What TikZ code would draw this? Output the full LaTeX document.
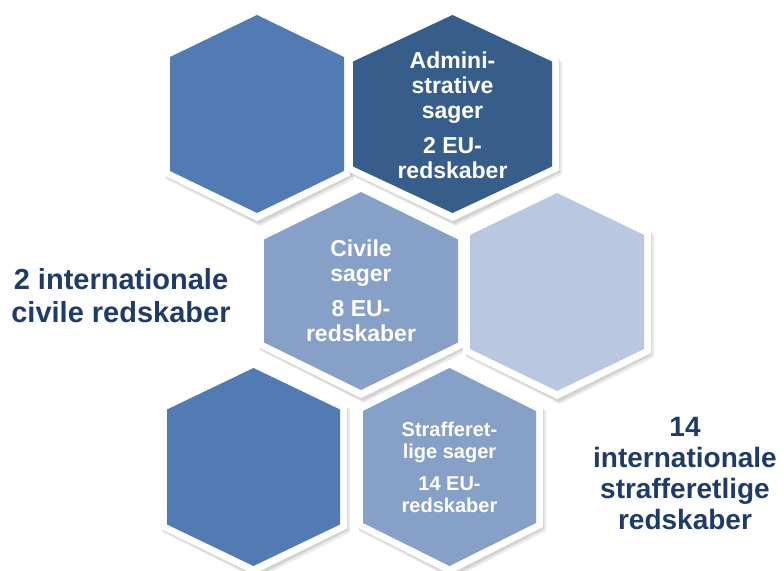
\documentclass[tikz,border=0pt]{standalone}
\usepackage{fontspec}
\setmainfont{Liberation Sans}
\usepackage{tikz}
\definecolor{hexmid}{HTML}{527BB3}
\definecolor{hexdark}{HTML}{375D8B}
\definecolor{hexsoft}{HTML}{87A0C8}
\definecolor{hexpale}{HTML}{B9C7E0}
\definecolor{navy}{HTML}{1F3B66}
% cx, cy, half width, half side, colour
\newcommand{\hexcell}[5]{%
  \begin{scope}[shift={(#1,#2)}]
    \fill[black,opacity=.08] (2,-105) -- ({#3+10},{-#4}) -- ({#3+10},{#4+8}) -- (3,112) -- ({-#3-4},{#4+8}) -- ({-#3-4},{-#4}) -- cycle;
    \fill[black,opacity=.10] (2,-104) -- ({#3+8},{-#4-2}) -- ({#3+8},{#4+6}) -- (2,110) -- ({-#3-5},{#4+6}) -- ({-#3-5},{-#4-2}) -- cycle;
    \fill[white] (0,-107) -- ({#3+7},{-#4-4}) -- ({#3+7},{#4+4}) -- (0,107) -- ({-#3-7},{#4+4}) -- ({-#3-7},{-#4-4}) -- cycle;
    \fill[#5] (0,-99) -- (#3,-#4) -- (#3,#4) -- (0,99) -- (-#3,#4) -- (-#3,-#4) -- cycle;
  \end{scope}}

\begin{document}
\begin{tikzpicture}[x=1pt,y=-1pt,
   hextext/.style={text=white,align=center,font=\bfseries\fontsize{23}{25}\selectfont},
   sidetext/.style={text=navy,align=center,font=\bfseries\fontsize{28}{31}\selectfont}]
\useasboundingbox (0,0) rectangle (784,570);
\hexcell{257}{114}{87}{57}{hexmid}
\hexcell{452.5}{114}{99.5}{52.5}{hexdark}
\hexcell{361}{291}{97}{51.5}{hexsoft}
\hexcell{557}{292}{87}{57}{hexpale}
\hexcell{253.5}{467}{86.5}{57.5}{hexmid}
\hexcell{449.5}{467}{86.5}{56}{hexsoft}
\node[hextext] (admin) at (452.5,115) {Admini-\\strative\\sager\\[10pt]2 EU-\\redskaber};
\node[hextext] (civile) at (361,291) {Civile\\sager\\[10pt]8 EU-\\redskaber};
\node[hextext,font=\bfseries\fontsize{20}{22}\selectfont] (straf) at (449.5,467) {Strafferet-\\lige sager\\[10pt]14 EU-\\redskaber};
\node[sidetext,font=\bfseries\fontsize{29}{33}\selectfont] (intciv) at (121,296) {2 internationale\\civile redskaber};
\node[sidetext] (intstraf) at (685,473) {14\\internationale\\strafferetlige\\redskaber};
\end{tikzpicture}
\end{document}
